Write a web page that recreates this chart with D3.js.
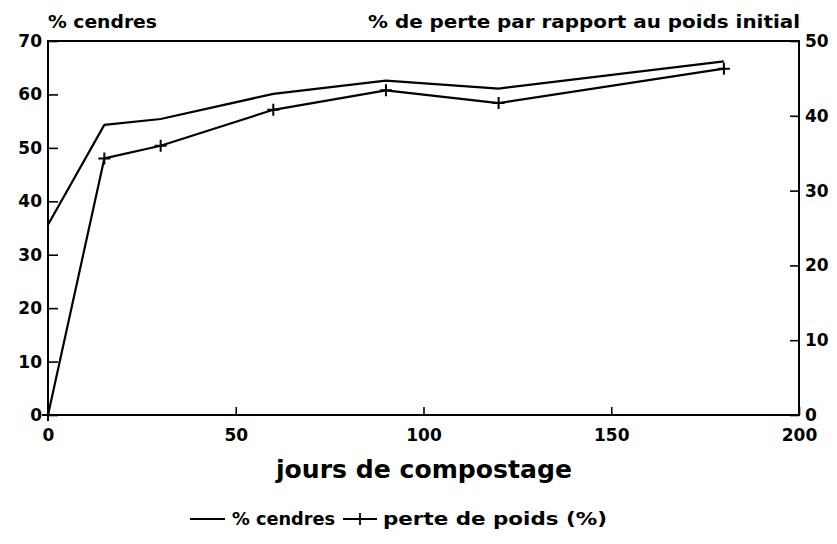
<!DOCTYPE html>
<html>
<head>
<meta charset="utf-8">
<script src="https://cdnjs.cloudflare.com/ajax/libs/d3/7.8.5/d3.min.js"></script>
<style>
  body { margin: 0; background: #fff; }
  text { font-family: "DejaVu Sans", sans-serif; font-weight: bold; fill: #000; }
</style>
</head>
<body>
<script>
// data
var jours = [0, 15, 30, 60, 90, 120, 180];
var cendres = [35.6, 54.3, 55.4, 60.1, 62.6, 61.1, 66.2];      // left axis
var pertePoids = [0, 34.3, 36.0, 40.8, 43.4, 41.7, 46.3];      // right axis
var xTicks = [0, 50, 100, 150, 200];
var yLeftTicks = [0, 10, 20, 30, 40, 50, 60, 70];
var yRightTicks = [0, 10, 20, 30, 40, 50];

var W = 837, H = 544;
var mLeft = 48, mRight = 799, mTop = 41, mBottom = 415;

var svg = d3.select("body").append("svg")
  .attr("width", W)
  .attr("height", H);

var x = d3.scaleLinear().domain([0, 200]).range([mLeft, mRight]);
var yL = d3.scaleLinear().domain([0, 70]).range([mBottom, mTop]);
var yR = d3.scaleLinear().domain([0, 50]).range([mBottom, mTop]);

// frame
svg.append("rect")
  .attr("x", mLeft).attr("y", mTop)
  .attr("width", mRight - mLeft).attr("height", mBottom - mTop)
  .attr("fill", "none").attr("stroke", "#000").attr("stroke-width", 2);

// axes, ticks pointing inward
var axL = svg.append("g").attr("transform", "translate(" + mLeft + ",0)")
  .call(d3.axisLeft(yL).tickValues(yLeftTicks).tickSize(-10).tickPadding(6));
var axR = svg.append("g").attr("transform", "translate(" + mRight + ",0)")
  .call(d3.axisRight(yR).tickValues(yRightTicks).tickSize(-9).tickPadding(6));
var axB = svg.append("g").attr("transform", "translate(0," + mBottom + ")")
  .call(d3.axisBottom(x).tickValues(xTicks).tickSize(-8).tickPadding(14));

[axL, axR, axB].forEach(function(g) {
  g.select(".domain").remove();
  g.selectAll(".tick line").attr("stroke", "#000").attr("stroke-width", 1.6);
  g.selectAll(".tick text")
    .attr("font-family", "DejaVu Sans")
    .attr("font-weight", "bold")
    .attr("font-size", 17)
    .attr("fill", "#000");
});

// lines
var lineL = d3.line().x(function(d, i) { return x(jours[i]); }).y(function(d) { return yL(d); });
var lineR = d3.line().x(function(d, i) { return x(jours[i]); }).y(function(d) { return yR(d); });

svg.append("path").datum(cendres)
  .attr("d", lineL).attr("fill", "none")
  .attr("stroke", "#000").attr("stroke-width", 2.2).attr("stroke-linejoin", "round");

svg.append("path").datum(pertePoids)
  .attr("d", lineR).attr("fill", "none")
  .attr("stroke", "#000").attr("stroke-width", 2.2).attr("stroke-linejoin", "round");

svg.selectAll(".plus").data(pertePoids).enter().append("path")
  .attr("class", "plus")
  .attr("transform", function(d, i) { return "translate(" + x(jours[i]) + "," + yR(d) + ")"; })
  .attr("d", "M-6,0H6M0,-6V6")
  .attr("stroke", "#000").attr("stroke-width", 2);

// titles
svg.append("text").attr("x", 48).attr("y", 28)
  .attr("font-size", 17).attr("textLength", 109).attr("lengthAdjust", "spacingAndGlyphs")
  .text("% cendres");
svg.append("text").attr("x", 368).attr("y", 28)
  .attr("font-size", 17).attr("textLength", 432).attr("lengthAdjust", "spacingAndGlyphs")
  .text("% de perte par rapport au poids initial");
svg.append("text").attr("x", 276).attr("y", 478)
  .attr("font-size", 24).attr("textLength", 296).attr("lengthAdjust", "spacingAndGlyphs")
  .text("jours de compostage");

// legend
var ly = 519;
svg.append("line").attr("x1", 190).attr("x2", 225).attr("y1", ly).attr("y2", ly)
  .attr("stroke", "#000").attr("stroke-width", 1.8);
svg.append("text").attr("x", 232).attr("y", ly + 6)
  .attr("font-size", 17).attr("textLength", 103).attr("lengthAdjust", "spacingAndGlyphs")
  .text("% cendres");
svg.append("line").attr("x1", 343).attr("x2", 377).attr("y1", ly).attr("y2", ly)
  .attr("stroke", "#000").attr("stroke-width", 1.8);
svg.append("path").attr("transform", "translate(360," + ly + ")")
  .attr("d", "M0,-6V6").attr("stroke", "#000").attr("stroke-width", 1.8);
svg.append("text").attr("x", 383).attr("y", ly + 6)
  .attr("font-size", 17).attr("textLength", 224).attr("lengthAdjust", "spacingAndGlyphs")
  .text("perte de poids (%)");
</script>
</body>
</html>
